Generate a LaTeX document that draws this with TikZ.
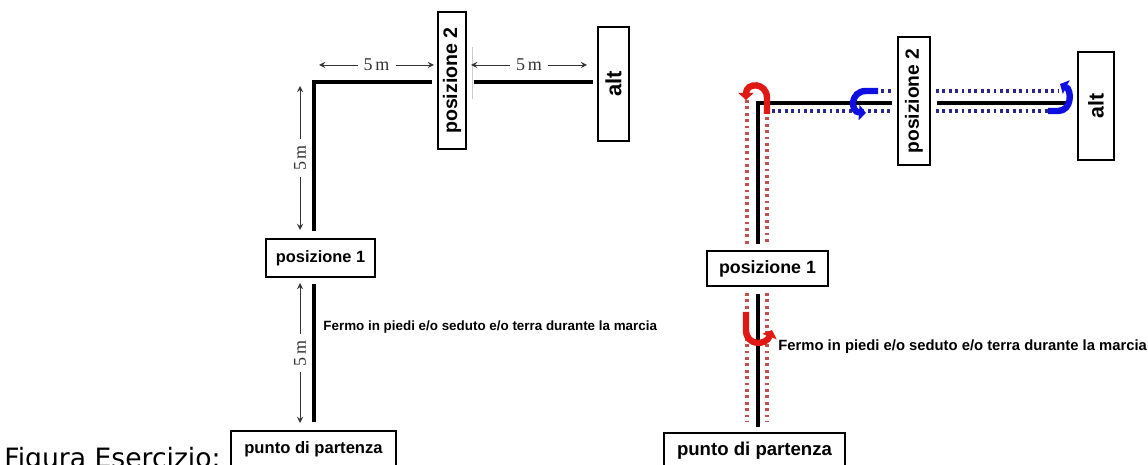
\documentclass[tikz,border=0pt]{standalone}
\usepackage{fontspec}
\setmainfont{Liberation Sans}
\newfontfamily\figfont{DejaVu Sans}
\newfontfamily\dimfont{Liberation Serif}
\usepackage{graphicx}
\usepackage{xcolor}
\usepackage{tikz}
\usetikzlibrary{arrows, arrows.meta, positioning, calc}
\definecolor{dotblue}{RGB}{40,40,140}
\definecolor{dotred}{RGB}{190,80,80}
\definecolor{turnred}{RGB}{225,25,20}
\definecolor{turnblue}{RGB}{15,15,225}

\begin{document}
\begin{tikzpicture}[x=0.5pt, y=-0.5pt]
\tikzstyle{place} = [rectangle, draw=black, line width=0.6pt, inner sep=0pt, text centered, fill=white]
\tikzstyle{track} = [line width=1.6pt, black]
\tikzstyle{trackR} = [line width=2pt, black]
\tikzstyle{dim} = [line width=0.4pt, black!80, <->, >=stealth]
\tikzstyle{dimlabel} = [fill=white, inner sep=3pt, font=\dimfont\fontsize{9}{10}\selectfont]
\tikzstyle{dots} = [line width=1.7pt, dash pattern=on 1.4pt off 1.8pt]
\tikzstyle{turn} = [line width=3.2pt, -{Triangle[length=3.5pt, width=7.5pt]}]
\useasboundingbox (0,0) rectangle (1148,465);

% Caption
\node[anchor=base west, inner sep=0pt, font=\figfont\fontsize{13.3}{16}\selectfont] (caption) at (4,467) {Figura Esercizio:};

% Left: places
\node[place, minimum width=82.5pt, minimum height=18pt, font=\bfseries\fontsize{8.3}{10}\selectfont] (startL) at (313.5,449) {punto di partenza};
\node[place, minimum width=54.5pt, minimum height=19pt, font=\bfseries\fontsize{8.2}{10}\selectfont] (pos1L) at (320.5,258) {posizione 1};
\node[place, minimum width=14pt, minimum height=68.5pt, font=\bfseries\fontsize{9.8}{11}\selectfont] (pos2L) at (452,80.5) {\rotatebox{90}{posizione 2}};
\node[place, minimum width=15.5pt, minimum height=57pt, font=\bfseries\fontsize{11}{12}\selectfont] (altL) at (613.5,84) {\rotatebox{90}{alt}};
\node[anchor=west, inner sep=0pt, font=\bfseries\fontsize{6.7}{8}\selectfont] (stopL) at (323,327) {Fermo in piedi e/o seduto e/o terra durante la marcia};

% Left: path
\coordinate (cornerL) at (314,82);
\draw[track, shorten <=4pt, shorten >=3pt] (startL.north -| cornerL) -- (pos1L.south -| cornerL);
\draw[track, shorten <=3.5pt, shorten >=2.5pt] (pos1L.north -| cornerL) -- (cornerL) -- (pos2L.west |- cornerL);
\draw[track, shorten <=3.5pt, shorten >=2pt] (pos2L.east |- cornerL) -- (altL.west |- cornerL);
\draw[gray!40, line width=0.5pt] (472,47) -- (472,99);

% Left: distances
\coordinate (dimA1) at (319,65);
\coordinate (dimA2) at (434,65);
\coordinate (dimB1) at (471,65);
\coordinate (dimB2) at (587,65);
\coordinate (dimC1) at (300,86);
\coordinate (dimC2) at (300,230);
\coordinate (dimD1) at (300,283);
\coordinate (dimD2) at (300,423);
\draw[dim] (dimA1) -- node[dimlabel] {5\,m} (dimA2);
\draw[dim] (dimB1) -- node[dimlabel] {5\,m} (dimB2);
\draw[dim] (dimC1) -- node[dimlabel] {\rotatebox{90}{5\,m}} (dimC2);
\draw[dim] (dimD1) -- node[dimlabel] {\rotatebox{90}{5\,m}} (dimD2);

% Right: places
\node[place, minimum width=90.5pt, minimum height=18pt, font=\bfseries\fontsize{9.3}{11}\selectfont] (startR) at (754.5,451) {punto di partenza};
\node[place, minimum width=60.5pt, minimum height=17.5pt, font=\bfseries\fontsize{8.9}{10}\selectfont] (pos1R) at (767.5,268.5) {posizione 1};
\node[place, minimum width=16pt, minimum height=64pt, font=\bfseries\fontsize{9.6}{11}\selectfont] (pos2R) at (914,101) {\rotatebox{90}{posizione 2}};
\node[place, minimum width=18pt, minimum height=54pt, font=\bfseries\fontsize{10.7}{12}\selectfont] (altR) at (1096,106) {\rotatebox{90}{alt}};
\node[anchor=west, inner sep=0pt, font=\bfseries\fontsize{7.4}{9}\selectfont] (stopR) at (778,347) {Fermo in piedi e/o seduto e/o terra durante la marcia};

% Right: walked lines
\draw[dots, dotred] (747,100) -- (747,245);
\draw[dots, dotred] (767,111) -- (767,245);
\draw[dots, dotred] (747,293) -- (747,422);
\draw[dots, dotred] (767,293) -- (767,422);
\draw[dots, dotblue] (875,91) -- (893,91);
\draw[dots, dotblue] (936,91) -- (1058,91);
\draw[dots, dotblue] (772,111) -- (893,111);
\draw[dots, dotblue] (936,111) -- (1050,111);

% Right: path
\coordinate (cornerR) at (758,103);
\draw[trackR, shorten <=2.5pt, shorten >=3.5pt] (startR.north -| cornerR) -- (pos1R.south -| cornerR);
\draw[trackR, shorten <=3pt, shorten >=2.5pt] (pos1R.north -| cornerR) -- (cornerR) -- (pos2R.west |- cornerR);
\draw[trackR, shorten <=3pt, shorten >=5.5pt] (pos2R.east |- cornerR) -- (altR.west |- cornerR);

% Right: turns
\draw[turn, turnred] (767,114) -- (767,98) .. controls (767,82) and (746,82) .. (746,100);
\draw[turn, turnred] (746,312) -- (746,330) .. controls (746,346) and (766,346) .. (772,330);
\draw[turn, turnblue] (878,91) -- (866,91) .. controls (850,91) and (850,112) .. (866,113);
\draw[turn, turnblue] (1048,111) -- (1058,111) .. controls (1072,111) and (1072,90) .. (1060,84);
\end{tikzpicture}
\end{document}
